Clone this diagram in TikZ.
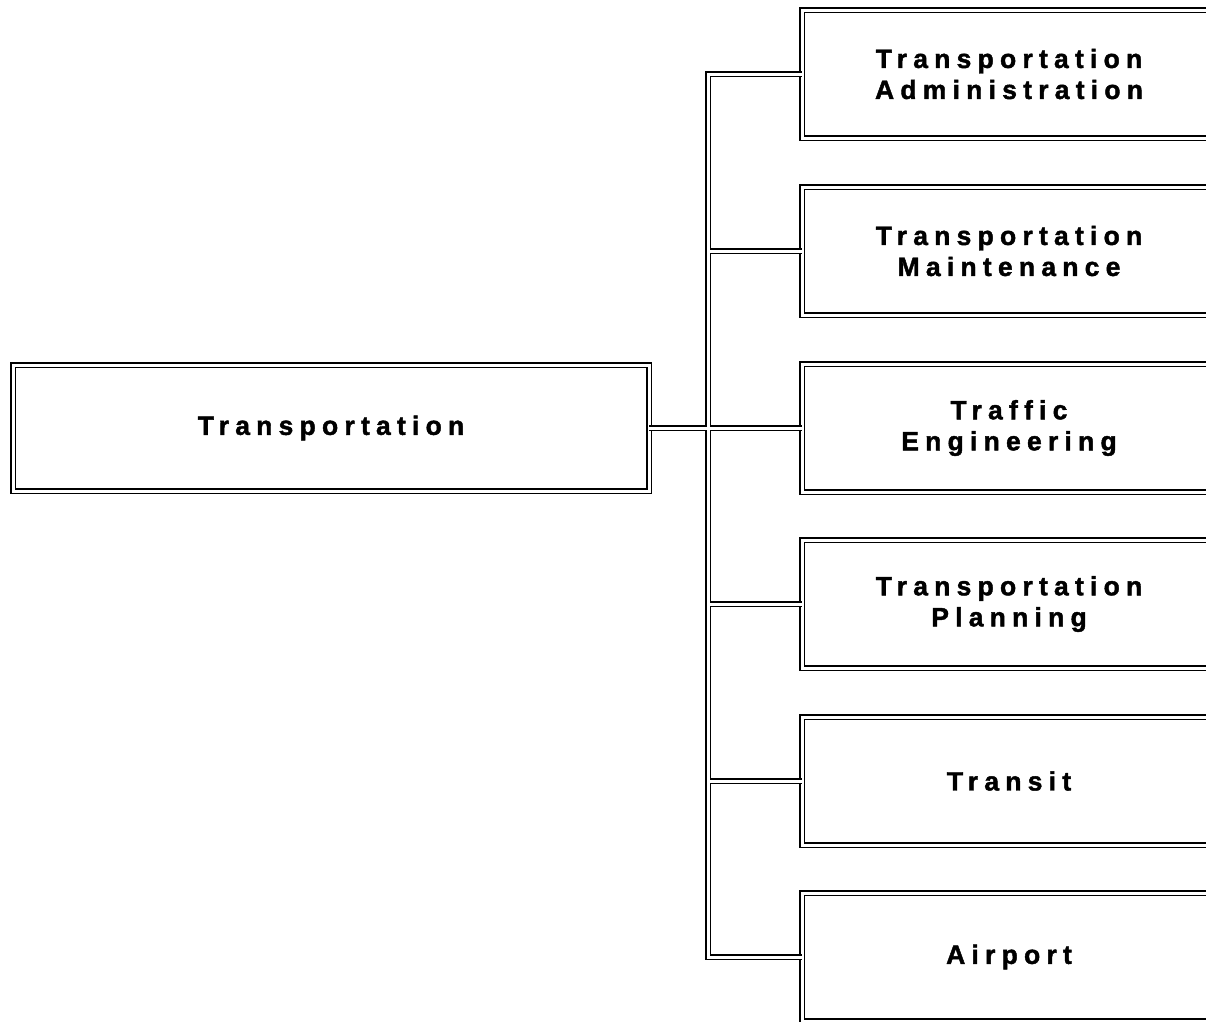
\documentclass[tikz,border=0pt]{standalone}
\usepackage{fontspec}
\newfontfamily\orgfont[LetterSpace=23.5,UprightFont={*/B},FakeBold=1.6]{Liberation Sans}
\begin{document}
\begin{tikzpicture}[x=1pt,y=-1pt,
  frame/.style={draw=black, line width=1.8pt, double=white, double distance=3pt},
  unit/.style={frame, rectangle, inner sep=0pt, outer sep=0pt, align=center,
    font=\orgfont\fontsize{26.5}{31}\selectfont},
  dept/.style={unit, minimum width=414pt, minimum height=128pt},
  link/.style={frame}
]
\useasboundingbox (0,0) rectangle (1206,1021);
\clip (0,0) rectangle (1206,1021);

% head of the department
\node[unit, minimum width=636pt, minimum height=126pt] (root) at (331,428) {Transportation};

% divisions
\node[dept] (d1) at (1009,74)  {Transportation\\Administration};
\node[dept] (d2) at (1009,251) {Transportation\\Maintenance};
\node[dept] (d3) at (1009,428) {Traffic\\Engineering};
\node[dept] (d4) at (1009,604) {Transportation\\Planning};
\node[dept] (d5) at (1009,781) {Transit};
\node[dept] (d6) at (1009,957) {Airport};

% spine position
\coordinate (s1) at ([xshift=-94pt]d1.west);
\coordinate (s6) at ([xshift=-94pt]d6.west);

% connectors, one path so the double lines merge at the joints
\draw[link] (d1.west) -- (s1) -- (s6) -- (d6.west)
  (root.east) -- (d3.west)
  (d2.west) -- (s1 |- d2.west)
  (d4.west) -- (s1 |- d4.west)
  (d5.west) -- (s1 |- d5.west);
\end{tikzpicture}
\end{document}
